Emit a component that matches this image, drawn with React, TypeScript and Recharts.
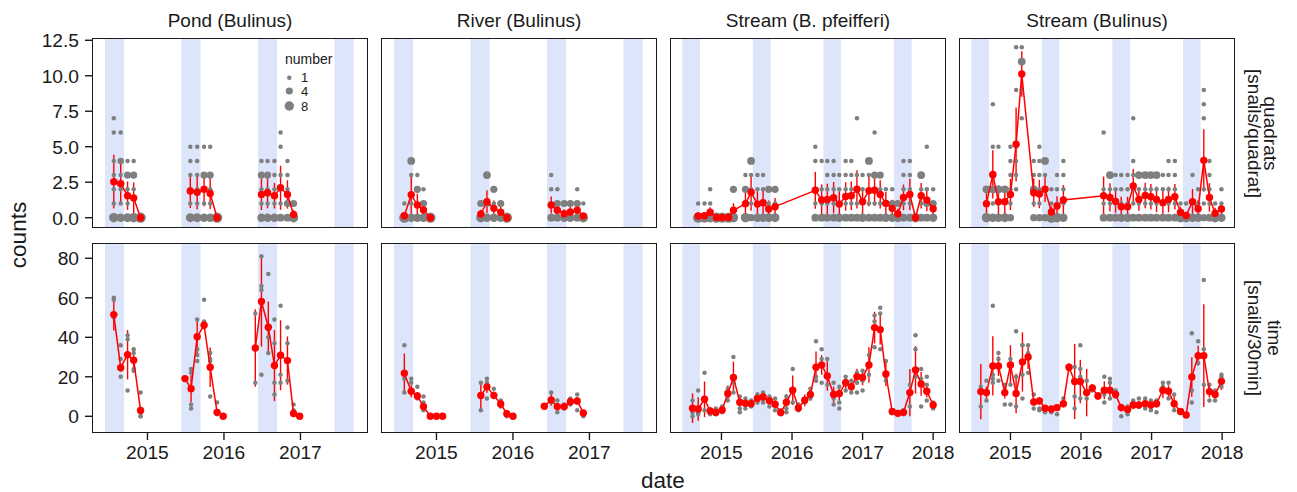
import React from 'react';
import { ScatterChart, Scatter, XAxis, YAxis, ReferenceArea, ErrorBar } from 'recharts';

const FONT = '"Liberation Sans", Arial, Helvetica, sans-serif';
const RED = '#ff0000';
const GREY = '#7f7f7f';
const BAND = '#dce5fa';
const INK = '#1a1a1a';

// shaded seasons
const seasonStart = [2014.445, 2015.445, 2016.445, 2017.445];
const seasonEnd = [2014.695, 2015.695, 2016.695, 2017.695];

const facets = ['Pond (Bulinus)', 'River (Bulinus)', 'Stream (B. pfeifferi)', 'Stream (Bulinus)'];
const quadTicks = [0, 2.5, 5, 7.5, 10, 12.5];
const timeTicks = [0, 20, 40, 60, 80];
const yearsShort = [2015, 2016, 2017];
const yearsLong = [2015, 2016, 2017, 2018];
const legendCounts = [1, 4, 8];

// ---------- Pond (Bulinus) ----------
const pondQDate = [2014.56, 2014.65, 2014.74, 2014.82, 2014.91, 2015.56, 2015.65, 2015.74, 2015.82, 2015.91, 2016.49, 2016.57, 2016.66, 2016.74, 2016.83, 2016.91];
const pondQMean = [2.54, 2.4, 1.55, 1.39, 0, 1.88, 1.79, 2.0, 1.71, 0, 1.64, 1.76, 1.55, 2.11, 1.64, 0.23];
const pondQSe = [1.9, 1.45, 1.0, 1.1, 0, 1.2, 1.2, 1.2, 1.1, 0, 1.1, 1.1, 0.9, 1.55, 1.0, 0.3];
const pondQSeg = [0, 0, 0, 0, 0, 1, 1, 1, 1, 1, 2, 2, 2, 2, 2, 2];
const pondQRaw = [
  [[0, 8], [1, 1], [2, 1], [3, 1], [4, 1], [6, 1], [7, 1]],
  [[0, 6], [1, 1], [2, 1], [3, 1], [4, 3], [6, 1]],
  [[0, 7], [1, 1], [2, 1], [3, 4], [4, 1]],
  [[0, 8], [2, 1], [3, 4], [4, 1]],
  [[0, 10]],
  [[0, 7], [1, 1], [2, 1], [3, 1], [4, 1], [5, 1]],
  [[0, 7], [1, 1], [2, 1], [3, 1], [4, 1], [5, 1]],
  [[0, 6], [1, 1], [2, 1], [3, 4], [5, 1]],
  [[0, 6], [1, 1], [2, 1], [3, 4], [5, 1]],
  [[0, 10]],
  [[0, 6], [1, 1], [2, 1], [3, 4], [4, 1]],
  [[0, 6], [1, 1], [2, 1], [3, 4], [4, 1]],
  [[0, 6], [1, 1], [2, 1], [3, 1], [4, 1]],
  [[0, 5], [1, 1], [2, 1], [3, 1], [5, 1], [6, 1]],
  [[0, 5], [1, 4], [2, 1], [3, 1], [4, 1]],
  [[0, 8], [1, 4]],
];

const pondTDate = [2014.56, 2014.65, 2014.74, 2014.82, 2014.91, 2015.49, 2015.57, 2015.65, 2015.74, 2015.82, 2015.91, 2015.99, 2016.41, 2016.49, 2016.58, 2016.66, 2016.74, 2016.83, 2016.91, 2016.99];
const pondTMean = [51.5, 24.6, 31.2, 28.4, 2.9, 19.1, 14.0, 40.3, 46.1, 24.8, 2.0, 0, 34.6, 58.1, 45.1, 25.7, 30.9, 28.2, 1.4, 0];
const pondTSe = [8, 2, 12.5, 5, 2, 0.5, 6.8, 8.5, 2, 10, 1.5, 0, 19.6, 22.8, 13, 18, 17.7, 12.2, 1, 0];
const pondTSeg = [0, 0, 0, 0, 0, 1, 1, 1, 1, 1, 1, 1, 2, 2, 2, 2, 2, 2, 2, 2];
const pondTRaw = [
  [60, 59, 50], [36, 29, 20], [41, 39, 13], [34, 32, 24, 23], [12, 0, 0],
  [19], [4, 6, 22, 24], [49, 34, 31, 28], [59, 48, 47], [32, 29, 28, 10], [7, 1], [0],
  [17, 52], [64, 81, 66, 21], [72, 32, 40, 44], [49, 37, 17, 11], [56, 21, 17], [45, 37, 18], [6, 3], [0],
];

// ---------- River (Bulinus) ----------
const riverQDate = [2014.58, 2014.67, 2014.75, 2014.83, 2014.92, 2015.58, 2015.66, 2015.75, 2015.84, 2015.92, 2016.5, 2016.58, 2016.67, 2016.75, 2016.84, 2016.92];
const riverQMean = [0.14, 1.62, 0.89, 0.54, 0, 0.26, 1.13, 0.66, 0.38, 0, 0.89, 0.52, 0.28, 0.4, 0.52, 0.12];
const riverQSe = [0.15, 1.35, 0.8, 0.55, 0, 0.3, 0.8, 0.55, 0.45, 0, 0.6, 0.45, 0.3, 0.4, 0.45, 0.15];
const riverQSeg = [0, 0, 0, 0, 0, 1, 1, 1, 1, 1, 2, 2, 2, 2, 2, 2];
const riverQRaw = [
  [[0, 10], [1, 1]],
  [[0, 6], [1, 1], [3, 1], [4, 5]],
  [[0, 6], [1, 1], [2, 4], [3, 1]],
  [[0, 6], [1, 4], [2, 1]],
  [[0, 10]],
  [[0, 8], [1, 4]],
  [[0, 6], [1, 4], [3, 5]],
  [[0, 6], [1, 1], [2, 4]],
  [[0, 6], [1, 4]],
  [[0, 10]],
  [[0, 5], [1, 1], [2, 1], [3, 1]],
  [[0, 5], [1, 4], [2, 1]],
  [[0, 6], [1, 4]],
  [[0, 6], [1, 4]],
  [[0, 5], [1, 4], [2, 1]],
  [[0, 8], [1, 1]],
];

const riverTDate = [2014.58, 2014.67, 2014.75, 2014.83, 2014.92, 2015.0, 2015.08, 2015.58, 2015.66, 2015.75, 2015.84, 2015.92, 2016.0, 2016.41, 2016.5, 2016.58, 2016.67, 2016.75, 2016.84, 2016.92];
const riverTMean = [21.8, 12.7, 10.3, 4.9, 0, 0, 0, 10.5, 14.9, 10.6, 6.2, 1.3, 0, 5.1, 8.3, 4.9, 4.9, 7.4, 7.8, 1.7];
const riverTSe = [10, 3, 2, 2, 0, 0, 0, 7, 3, 2, 2, 1, 0, 1, 3, 2, 1, 2, 2, 1];
const riverTSeg = [0, 0, 0, 0, 0, 0, 0, 1, 1, 1, 1, 1, 1, 2, 2, 2, 2, 2, 2, 2];
const riverTRaw = [
  [36, 19, 12], [19, 12, 17], [15, 11, 9], [10, 7, 3], [0], [0], [0],
  [3, 17], [19, 17, 9], [14, 10], [8, 5], [2, 0], [0],
  [5], [12, 7], [8, 2], [6, 4], [9, 6], [11, 7, 3], [0],
];

// ---------- Stream (B. pfeifferi) ----------
const pfQDate = [2014.67, 2014.76, 2014.84, 2014.93, 2015.01, 2015.1, 2015.17, 2015.34, 2015.42, 2015.51, 2015.59, 2015.67, 2015.76, 2016.33, 2016.42, 2016.5, 2016.59, 2016.67, 2016.76, 2016.84, 2016.92, 2017.0, 2017.09, 2017.17, 2017.25, 2017.33, 2017.42, 2017.5, 2017.58, 2017.67, 2017.75, 2017.83, 2017.91, 2018.0];
const pfQMean = [0.12, 0.14, 0.38, 0.02, 0.02, 0.02, 0.52, 0.99, 1.79, 0.96, 1.06, 0.61, 0.78, 1.93, 1.25, 1.29, 1.41, 0.96, 1.5, 1.55, 2.0, 1.13, 1.9, 1.93, 1.64, 1.01, 0.66, 0.28, 1.43, 1.64, 0, 1.55, 1.25, 0.63];
const pfQSe = [0.1, 0.1, 0.35, 0.05, 0.05, 0.05, 0.5, 0.8, 1.3, 0.9, 0.9, 0.6, 0.6, 1.3, 1.1, 1.1, 1.1, 0.9, 1.0, 1.0, 1.35, 0.9, 1.1, 1.1, 1.0, 0.8, 0.6, 0.35, 0.9, 1.1, 0, 0.9, 0.8, 0.5];
const pfQRaw = [
  [[0, 10], [1, 1]], [[0, 9], [1, 1]], [[0, 8], [1, 1], [2, 1]], [[0, 10]], [[0, 10]], [[0, 10]],
  [[0, 8], [2, 4]], [[0, 8], [1, 1], [2, 4], [3, 1]], [[0, 4], [1, 1], [2, 1], [3, 1], [4, 5]],
  [[0, 6], [1, 1], [2, 1], [3, 1]], [[0, 6], [1, 1], [2, 1], [3, 1]], [[0, 7], [1, 1], [2, 4]],
  [[0, 7], [1, 1], [2, 4]], [[0, 5], [1, 1], [2, 1], [4, 1], [5, 1]], [[0, 5], [1, 1], [2, 1], [4, 1]],
  [[0, 5], [1, 1], [2, 1], [3, 1], [4, 1]], [[0, 5], [1, 1], [2, 1], [3, 1], [4, 1]],
  [[0, 6], [1, 1], [2, 1], [3, 1]], [[0, 5], [1, 1], [2, 1], [3, 1], [4, 1]],
  [[0, 5], [1, 1], [2, 1], [3, 1], [4, 1]], [[0, 5], [1, 1], [2, 1], [3, 1], [7, 1]],
  [[0, 6], [1, 1], [2, 1], [3, 1]], [[0, 5], [1, 1], [2, 1], [3, 1], [4, 5]],
  [[0, 5], [1, 1], [2, 1], [3, 4], [6, 1]], [[0, 5], [1, 1], [2, 1], [3, 4]],
  [[0, 6], [1, 4], [2, 1]], [[0, 6], [1, 4], [2, 1]], [[0, 7], [1, 4]],
  [[0, 5], [1, 1], [2, 1], [3, 1], [4, 1]], [[0, 5], [1, 1], [2, 1], [3, 1], [4, 1]], [[0, 8]],
  [[0, 5], [1, 1], [2, 1], [3, 5]], [[0, 5], [1, 4], [2, 1], [5, 1]], [[0, 6], [1, 4], [2, 1]],
];

const pfTDate = [2014.59, 2014.67, 2014.76, 2014.84, 2014.92, 2015.01, 2015.09, 2015.17, 2015.26, 2015.34, 2015.42, 2015.51, 2015.59, 2015.68, 2015.76, 2015.84, 2015.92, 2016.01, 2016.09, 2016.18, 2016.26, 2016.34, 2016.42, 2016.5, 2016.59, 2016.67, 2016.76, 2016.84, 2016.92, 2017.0, 2017.09, 2017.17, 2017.25, 2017.33, 2017.42, 2017.5, 2017.58, 2017.67, 2017.75, 2017.83, 2017.91, 2018.0];
const pfTMean = [4.1, 3.7, 8.6, 2.7, 1.9, 3.2, 11.6, 19.7, 7.1, 6.6, 6.4, 9.1, 9.8, 7.9, 6.1, 1.9, 7.1, 13.2, 4.2, 8.1, 11.0, 24.8, 26.0, 20.4, 11.0, 11.5, 17.0, 15.0, 20.1, 19.7, 26.0, 44.9, 43.9, 21.4, 2.4, 1.5, 2.0, 12.0, 23.5, 16.4, 12.7, 5.7];
const pfTSe = [7.5, 6, 9, 2, 1.5, 2, 4, 8, 3, 2, 2, 3, 3, 2.5, 2, 1.5, 4, 7.5, 2, 3, 3, 8, 5, 7.5, 4, 3.5, 3.5, 3, 4, 4, 9, 8, 7.5, 6, 1.5, 1, 1.5, 12, 12, 6, 3, 2];
const pfTRaw = [
  [8, 0, 2], [13, 1, 2], [22, 3], [3, 1, 2], [1, 2, 4], [5, 2], [14, 8, 10], [30, 20, 17, 12],
  [10, 2, 4], [9, 6, 4], [8, 5, 6], [11, 7], [12, 7, 10], [10, 5], [9, 3], [1, 3], [10, 4, 2],
  [24, 7], [3, 6], [9, 7], [14, 9], [38, 20, 18], [34, 29, 17], [29, 16, 21], [17, 6, 9],
  [15, 7, 4], [20, 18, 13], [18, 12], [22, 17, 12], [23, 18, 13], [31, 21], [51, 48, 35],
  [55, 52, 34], [28, 18, 20], [3, 2], [1, 2], [1, 3], [16, 5], [41, 34, 20], [24, 19, 5],
  [20, 16, 8], [7, 4],
];

// ---------- Stream (Bulinus) ----------
const bsQDate = [2014.66, 2014.75, 2014.83, 2014.92, 2015.0, 2015.08, 2015.16, 2015.33, 2015.41, 2015.49, 2015.58, 2015.66, 2015.75, 2016.32, 2016.41, 2016.49, 2016.57, 2016.66, 2016.74, 2016.82, 2016.91, 2016.99, 2017.07, 2017.16, 2017.24, 2017.33, 2017.41, 2017.49, 2017.58, 2017.66, 2017.74, 2017.82, 2017.9, 2017.99];
const bsQMean = [0.99, 3.05, 1.13, 1.13, 1.64, 5.17, 10.13, 1.76, 1.67, 2.0, 0.4, 0.82, 1.25, 1.55, 1.43, 1.15, 0.78, 0.78, 2.23, 1.29, 1.57, 1.48, 1.29, 1.06, 1.29, 1.48, 0.38, 0.16, 1.13, 0.63, 4.04, 1.43, 0.31, 0.61];
const bsQSe = [0.8, 1.7, 1.15, 1.0, 1.1, 2.6, 1.6, 1.0, 1.0, 0.9, 0.4, 0.7, 1.05, 1.35, 1.0, 0.8, 0.7, 0.7, 1.2, 0.8, 0.9, 0.9, 0.9, 0.9, 0.9, 0.9, 0.4, 0.2, 0.9, 0.6, 2.2, 1.0, 0.4, 0.5];
const bsQRaw = [
  [[0, 8], [1, 1], [2, 5]], [[0, 6], [1, 1], [2, 5], [3, 4], [5, 1], [8, 1]],
  [[0, 6], [1, 1], [2, 5], [5, 1]], [[0, 7], [1, 1], [2, 5]],
  [[0, 4], [1, 1], [2, 1], [3, 1], [4, 1], [5, 1]], [[2, 1], [3, 1], [4, 1], [5, 1], [9, 1], [12, 1]],
  [[7, 1], [9, 1], [11, 5], [12, 1]], [[0, 4], [1, 1], [2, 5], [3, 1], [4, 1]],
  [[0, 4], [1, 1], [2, 1], [3, 1], [4, 1], [5, 1]], [[0, 4], [2, 1], [3, 1], [4, 5]],
  [[0, 10], [1, 1], [2, 1]], [[0, 8], [1, 1], [2, 1], [3, 1]], [[0, 6], [1, 1], [2, 1], [3, 1], [4, 1]],
  [[0, 5], [1, 1], [2, 1], [6, 1]], [[0, 5], [1, 1], [2, 1], [3, 5]], [[0, 5], [1, 1], [2, 1], [3, 1]],
  [[0, 6], [1, 1], [2, 1], [3, 1]], [[0, 6], [1, 1], [2, 1], [3, 1]],
  [[0, 5], [1, 1], [2, 1], [3, 1], [4, 1], [7, 1]], [[0, 5], [1, 1], [2, 1], [3, 5]],
  [[0, 5], [1, 1], [2, 1], [3, 5]], [[0, 5], [1, 1], [2, 1], [3, 5]], [[0, 5], [1, 1], [2, 1], [3, 5]],
  [[0, 5], [1, 1], [2, 1], [3, 1]], [[0, 5], [1, 1], [2, 1], [3, 1], [4, 1]],
  [[0, 5], [1, 1], [2, 1], [3, 1], [4, 1]], [[0, 8], [1, 1]], [[0, 8], [1, 1]],
  [[0, 6], [1, 1], [3, 1]], [[0, 6], [1, 1], [2, 1]], [[0, 4], [1, 1], [2, 1], [7, 1], [8, 1], [9, 1]],
  [[0, 5], [1, 1], [2, 1], [3, 1], [4, 1]], [[0, 8], [1, 1]], [[0, 6], [1, 1], [2, 1]],
];

const bsTDate = [2014.58, 2014.66, 2014.75, 2014.83, 2014.92, 2015.0, 2015.08, 2015.17, 2015.25, 2015.33, 2015.41, 2015.49, 2015.58, 2015.66, 2015.75, 2015.83, 2015.91, 2015.99, 2016.08, 2016.16, 2016.24, 2016.33, 2016.41, 2016.49, 2016.57, 2016.66, 2016.74, 2016.82, 2016.91, 2016.99, 2017.07, 2017.16, 2017.24, 2017.32, 2017.41, 2017.49, 2017.57, 2017.66, 2017.74, 2017.82, 2017.9, 2017.99];
const bsTMean = [12.5, 12.0, 25.5, 25.5, 12.0, 26.0, 11.6, 27.5, 30.0, 7.3, 7.8, 4.1, 3.7, 4.4, 6.4, 24.8, 17.6, 17.6, 12.0, 14.3, 10.3, 13.2, 13.2, 11.0, 4.4, 3.5, 5.7, 5.7, 6.4, 5.7, 6.4, 13.2, 12.7, 6.4, 2.4, 0.7, 19.9, 30.7, 30.7, 12.5, 11.0, 17.7];
const bsTSe = [14, 3, 15, 5, 3, 10, 10, 15, 6, 2, 2, 1, 1, 1, 2, 2, 19, 11, 12, 2, 2, 4.5, 4, 2, 2, 2, 2, 2, 2, 2, 2, 4, 3, 4, 1, 0.5, 10, 5, 26, 3, 2, 4.4];
const bsTRaw = [
  [5, 15], [8, 13, 18], [56, 21, 17, 19], [32, 29, 18], [16, 6], [29, 16, 6], [43, 20, 5],
  [36, 36, 21, 9], [36, 32, 22], [11, 4], [3, 4], [3, 2], [2, 4], [1, 5], [6, 9], [25, 24],
  [10, 4, 25], [36, 24, 20, 9], [18, 9], [15, 13], [11], [20, 11, 7], [19, 17, 9], [10, 13],
  [4, 0], [5, 1], [8, 7], [9, 5], [9, 4], [8, 3], [8, 2], [17, 15], [17, 9], [11, 3], [2], [0],
  [42, 13, 7], [38, 27], [69, 34, 16], [16, 8], [13, 8], [20, 21, 15],
];

// ---------- helpers ----------
type Pt = { x: number; y: number; n?: number; se?: number };

function countPoints(dates: number[], raw: number[][][]): Pt[] {
  const out: Pt[] = [];
  dates.forEach((d, i) => raw[i].forEach(([v, n]) => out.push({ x: d, y: v, n })));
  return out.sort((a, b) => (b.n || 1) - (a.n || 1));
}

function valuePoints(dates: number[], raw: number[][]): Pt[] {
  const out: Pt[] = [];
  dates.forEach((d, i) => raw[i].forEach((v) => out.push({ x: d, y: v, n: 1 })));
  return out;
}

function meanGroups(dates: number[], means: number[], se: number[], seg?: number[]): Pt[][] {
  const groups: Pt[][] = [];
  dates.forEach((d, i) => {
    const g = seg ? seg[i] : 0;
    (groups[g] = groups[g] || []).push({ x: d, y: means[i], se: se[i] });
  });
  return groups;
}

const radius = (n: number) => 0.9 + 1.35 * Math.sqrt(n);

const GreyDot = (p: any) =>
  p.cx == null ? null : <circle cx={p.cx} cy={p.cy} r={radius(p.payload.n || 1)} fill={GREY} />;
const RedDot = (p: any) => (p.cx == null ? null : <circle cx={p.cx} cy={p.cy} r={3.7} fill={RED} />);

// ---------- layout ----------
const COL_LEFT = [93, 382, 671, 960];
const ROW_TOP = [39, 244];
const PW = 274;
const PH = 188;
const Y_W = 70;
const X_H = 40;
const PAD_T = 14;
const PAD_R = 26;
const PAD_B = 10;
const X_SHORT: [number, number] = [2014.288, 2017.87];
const X_LONG: [number, number] = [2014.285, 2018.168];
const Y_QUAD: [number, number] = [-0.655, 12.59];
const Y_TIME: [number, number] = [-7.95, 87.24];

const tickStyle = { fill: INK, fontSize: 19.2, fontFamily: FONT };
const tickLine = { stroke: INK, strokeWidth: 1.4 };

interface PanelProps {
  col: number;
  row: number;
  xDomain: [number, number];
  xTicks: number[];
  raw: Pt[];
  groups: Pt[][];
}

function Panel({ col, row, xDomain, xTicks, raw, groups }: PanelProps) {
  const showY = col === 0;
  const showX = row === 1;
  const padB = showX ? 0 : PAD_B;
  const w = PW + (showY ? Y_W : 0) + PAD_R;
  const h = PH + (showX ? X_H : 0) + PAD_T + padB;
  const left = COL_LEFT[col] - (showY ? Y_W : 0);
  const top = ROW_TOP[row];
  const quad = row === 0;
  return (
    <>
      <div style={{ position: 'absolute', left, top: top - PAD_T, width: w, height: h }}>
        <ScatterChart width={w} height={h} margin={{ top: PAD_T, right: PAD_R, bottom: padB, left: 0 }}>
          <XAxis
            type="number"
            dataKey="x"
            domain={xDomain}
            ticks={xTicks}
            interval={0}
            allowDataOverflow
            hide={!showX}
            height={X_H}
            axisLine={false}
            tickLine={tickLine}
            tickSize={8}
            tickMargin={5}
            tick={tickStyle}
          />
          <YAxis
            type="number"
            dataKey="y"
            domain={quad ? Y_QUAD : Y_TIME}
            ticks={quad ? quadTicks : timeTicks}
            interval={0}
            allowDataOverflow
            hide={!showY}
            width={Y_W}
            axisLine={false}
            tickLine={tickLine}
            tickSize={8}
            tickMargin={6}
            tick={tickStyle}
            tickFormatter={(v: number) => (quad ? v.toFixed(1) : String(v))}
          />
          {seasonStart.map((s, i) => (
            <ReferenceArea key={i} x1={s} x2={seasonEnd[i]} fill={BAND} fillOpacity={1} stroke="none" ifOverflow="hidden" />
          ))}
          <Scatter data={raw} dataKey="y" isAnimationActive={false} shape={GreyDot} />
          {groups.map((g, i) => (
            <Scatter
              key={i}
              data={g}
              dataKey="y"
              isAnimationActive={false}
              shape={RedDot}
              line={{ stroke: RED, strokeWidth: 1.5 }}
              lineType="joint"
            >
              <ErrorBar dataKey="se" direction="y" width={0} stroke={RED} strokeWidth={1.4} />
            </Scatter>
          ))}
        </ScatterChart>
      </div>
      <div
        style={{
          position: 'absolute',
          left: COL_LEFT[col] - 0.7,
          top: top - 0.7,
          width: PW + 1.4,
          height: PH + 1.4,
          border: `1.4px solid ${INK}`,
          boxSizing: 'border-box',
          pointerEvents: 'none',
        }}
      />
    </>
  );
}

export default function App() {
  const panels = [
    { q: [countPoints(pondQDate, pondQRaw), meanGroups(pondQDate, pondQMean, pondQSe, pondQSeg)],
      t: [valuePoints(pondTDate, pondTRaw), meanGroups(pondTDate, pondTMean, pondTSe, pondTSeg)], x: X_SHORT, ticks: yearsShort },
    { q: [countPoints(riverQDate, riverQRaw), meanGroups(riverQDate, riverQMean, riverQSe, riverQSeg)],
      t: [valuePoints(riverTDate, riverTRaw), meanGroups(riverTDate, riverTMean, riverTSe, riverTSeg)], x: X_SHORT, ticks: yearsShort },
    { q: [countPoints(pfQDate, pfQRaw), meanGroups(pfQDate, pfQMean, pfQSe)],
      t: [valuePoints(pfTDate, pfTRaw), meanGroups(pfTDate, pfTMean, pfTSe)], x: X_LONG, ticks: yearsLong },
    { q: [countPoints(bsQDate, bsQRaw), meanGroups(bsQDate, bsQMean, bsQSe)],
      t: [valuePoints(bsTDate, bsTRaw), meanGroups(bsTDate, bsTMean, bsTSe)], x: X_LONG, ticks: yearsLong },
  ];
  const legendY = [77.7, 91, 106];

  return (
    <div style={{ position: 'absolute', left: 0, top: 0, width: 1297, height: 492, background: '#fff', overflow: 'hidden', fontFamily: FONT }}>
      {panels.map((p, c) => (
        <React.Fragment key={c}>
          <Panel col={c} row={0} xDomain={p.x as [number, number]} xTicks={p.ticks} raw={p.q[0] as Pt[]} groups={p.q[1] as Pt[][]} />
          <Panel col={c} row={1} xDomain={p.x as [number, number]} xTicks={p.ticks} raw={p.t[0] as Pt[]} groups={p.t[1] as Pt[][]} />
        </React.Fragment>
      ))}
      <svg width={1297} height={492} style={{ position: 'absolute', left: 0, top: 0, pointerEvents: 'none' }} fontFamily={FONT}>
        {facets.map((f, i) => (
          <text key={f} x={COL_LEFT[i] + PW / 2} y={26.5} textAnchor="middle" fontSize={19} fill={INK}>
            {f}
          </text>
        ))}
        <g transform="translate(1264,133.5) rotate(90)">
          <text x={0} y={0} textAnchor="middle" fontSize={19} fill={INK}>quadrats</text>
        </g>
        <g transform="translate(1248,133.5) rotate(90)">
          <text x={0} y={0} textAnchor="middle" fontSize={19} fill={INK}>[snails/quadrat]</text>
        </g>
        <g transform="translate(1268,338) rotate(90)">
          <text x={0} y={0} textAnchor="middle" fontSize={19} fill={INK}>time</text>
        </g>
        <g transform="translate(1248,338) rotate(90)">
          <text x={0} y={0} textAnchor="middle" fontSize={19} fill={INK}>[snails/30min]</text>
        </g>
        <g transform="translate(25.5,235) rotate(-90)">
          <text x={0} y={0} textAnchor="middle" fontSize={22.5} fill={INK}>counts</text>
        </g>
        <text x={663} y={487.5} textAnchor="middle" fontSize={22.5} fill={INK}>date</text>
        <text x={285} y={63.5} fontSize={14} fill={INK}>number</text>
        {legendCounts.map((n, i) => (
          <g key={n}>
            <circle cx={289.3} cy={legendY[i]} r={radius(n)} fill={GREY} />
            <text x={301} y={legendY[i] + 4.5} fontSize={13} fill={INK}>{n}</text>
          </g>
        ))}
      </svg>
    </div>
  );
}
